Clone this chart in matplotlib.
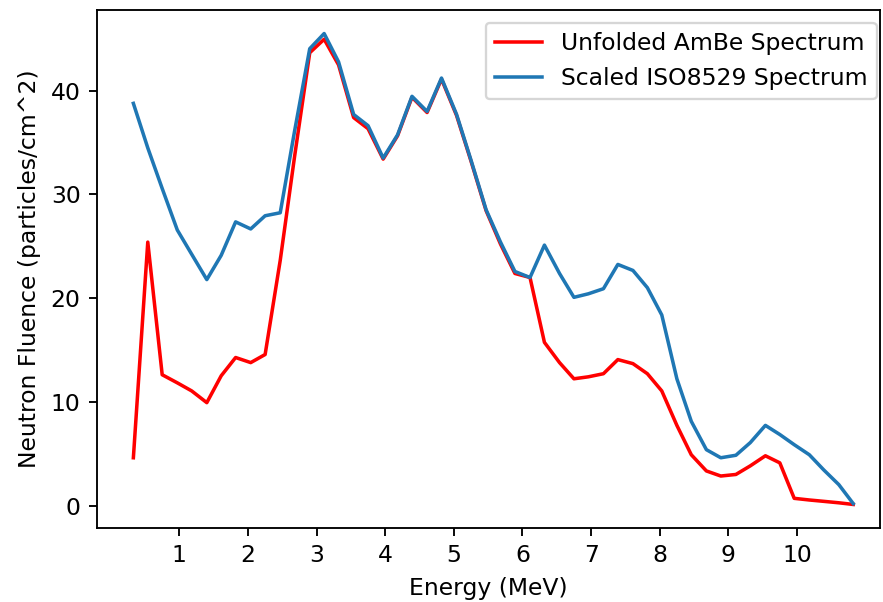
# Unfolded AmBe spectrum vs scaled ISO 8529 reference spectrum
import matplotlib
matplotlib.use("Agg")
import matplotlib.pyplot as plt

# Energy bins (MeV)
energy = [0.33, 0.54, 0.75, 0.97, 1.18, 1.40, 1.61, 1.82, 2.04, 2.25,
          2.47, 2.68, 2.90, 3.11, 3.32, 3.54, 3.75, 3.97, 4.18, 4.39,
          4.61, 4.82, 5.04, 5.25, 5.47, 5.68, 5.89, 6.11, 6.32, 6.54,
          6.75, 6.96, 7.18, 7.39, 7.61, 7.82, 8.03, 8.25, 8.46, 8.68,
          8.89, 9.11, 9.32, 9.54, 9.75, 9.96, 10.18, 10.39, 10.61, 10.82]

# unfolded fluence
unfolded = [4.62, 25.4, 12.62, 11.84, 11.06, 9.93, 12.52, 14.28, 13.79, 14.57,
            23.64, 33.69, 43.65, 44.95, 42.48, 37.4, 36.33, 33.4, 35.65, 39.36,
            37.89, 41.11, 37.6, 33.21, 28.43, 25.21, 22.38, 21.99, 15.74, 13.79,
            12.23, 12.42, 12.72, 14.08, 13.69, 12.72, 11.06, 7.74, 4.91, 3.35,
            2.86, 3.01, 3.84, 4.81, 4.13, 0.71, 0.55, 0.42, 0.28, 0.12]

# ISO8529 spectrum scaled to the unfolded one
iso_scaled = [38.77, 34.48, 30.57, 26.57, 24.23, 21.79, 24.13, 27.35, 26.67, 27.94,
              28.23, 36.13, 44.04, 45.5, 42.77, 37.7, 36.62, 33.5, 35.74, 39.45,
              37.99, 41.21, 37.7, 33.3, 28.52, 25.4, 22.57, 21.99, 25.11, 22.38,
              20.08, 20.42, 20.91, 23.25, 22.67, 21.01, 18.38, 12.23, 8.13, 5.4,
              4.62, 4.86, 6.08, 7.74, 6.86, 5.88, 4.91, 3.45, 2.03, 0.2]

fig = plt.figure(figsize=(883 / 169, 602 / 169), dpi=169)
ax = fig.add_axes([97 / 883, 1 - 528 / 602, 783 / 883, 518 / 602])

ax.plot(energy, unfolded, color="red", label="Unfolded AmBe Spectrum")
ax.plot(energy, iso_scaled, color="tab:blue", label="Scaled ISO8529 Spectrum")

ax.set_xlim(-0.2, 11.21)
ax.set_xticks(range(1, 11))
ax.set_xlabel("Energy (MeV)")
ax.set_ylabel("Neutron Fluence (particles/cm^2)")
ax.legend(loc="upper right", bbox_to_anchor=(1.011, 0.998))

fig.savefig("out.png", dpi=169)
